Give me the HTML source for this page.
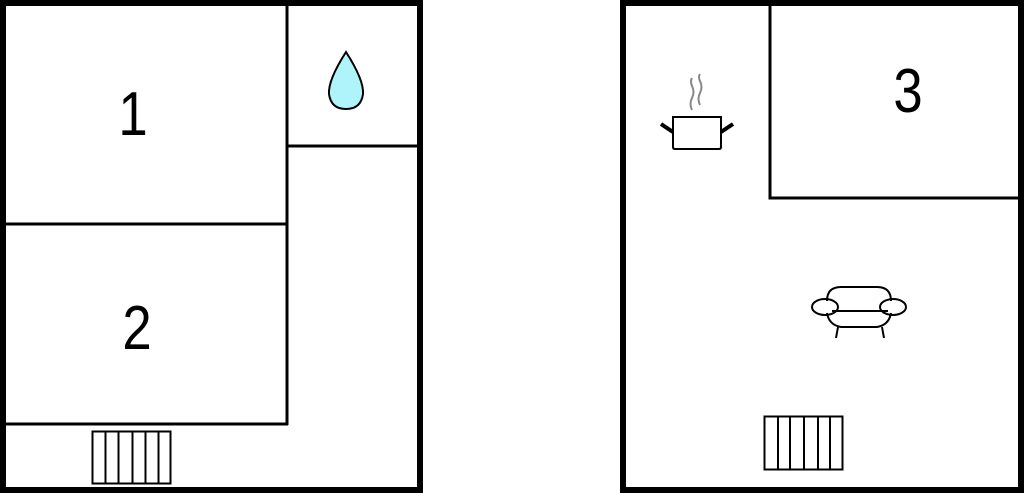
<!DOCTYPE html>
<html><head><style>html,body{margin:0;padding:0;background:#fff;width:1024px;height:493px;overflow:hidden}</style></head><body>
<svg width="1024" height="493" viewBox="0 0 1024 493" xmlns="http://www.w3.org/2000/svg" font-family="Liberation Sans, sans-serif">
<g fill="none" stroke="#000">
<rect x="3" y="3" width="417" height="487" stroke-width="6"/>
<line x1="287" y1="3" x2="287" y2="425" stroke-width="3"/>
<line x1="3" y1="224" x2="287" y2="224" stroke-width="3"/>
<line x1="3" y1="424" x2="288" y2="424" stroke-width="3"/>
<line x1="287" y1="146" x2="420" y2="146" stroke-width="3"/>
<rect x="92.5" y="431.5" width="78" height="52" stroke-width="2"/>
<path d="M105.5 432v52M118.5 432v52M132.5 432v52M145.5 432v52M158.5 432v52" stroke-width="2"/>
<rect x="623" y="3" width="398" height="487" stroke-width="6"/>
<polyline points="770,3 770,198 1021,198" stroke-width="3"/>
<rect x="764.5" y="416.5" width="78" height="53" stroke-width="2"/>
<path d="M778 417v53M790 417v53M804 417v53M818 417v53M830 417v53" stroke-width="2"/>
<path d="M673 117h48v30q0 2-2 2h-44q-2 0-2-2z" stroke-width="2"/>
<path d="M661 124l12 8M733 124l-12 8" stroke-width="4"/>
<path d="M692 110q-3-6 0-12t0-12q-2-5 0-8M700 105q-3-6 0-12t0-12q-2-4 0-7" stroke="#888" stroke-width="2"/>
<path d="M827 301q0-14 14-14h36q14 0 14 14M827 313q2 12 14 14h36q12-2 14-14M832 311h56" stroke-width="2"/>
<ellipse cx="825" cy="307" rx="13" ry="8" stroke-width="2"/><ellipse cx="893" cy="307" rx="13" ry="8" stroke-width="2"/>
<path d="M838 327l-2 11M882 327l2 11" stroke-width="2"/>
</g>
<path d="M346 52q-18 28-17 42q2 15 17 15q15 0 17-15q1-14-17-42z" fill="#aef4fa" stroke="#000" stroke-width="2"/>
<g font-size="62" text-anchor="middle" fill="#000">
<text transform="translate(133,135) scale(0.85,1)">1</text>
<text transform="translate(137,349) scale(0.85,1)">2</text>
<text transform="translate(908,112) scale(0.85,1)">3</text>
</g>
</svg>
</body></html>
